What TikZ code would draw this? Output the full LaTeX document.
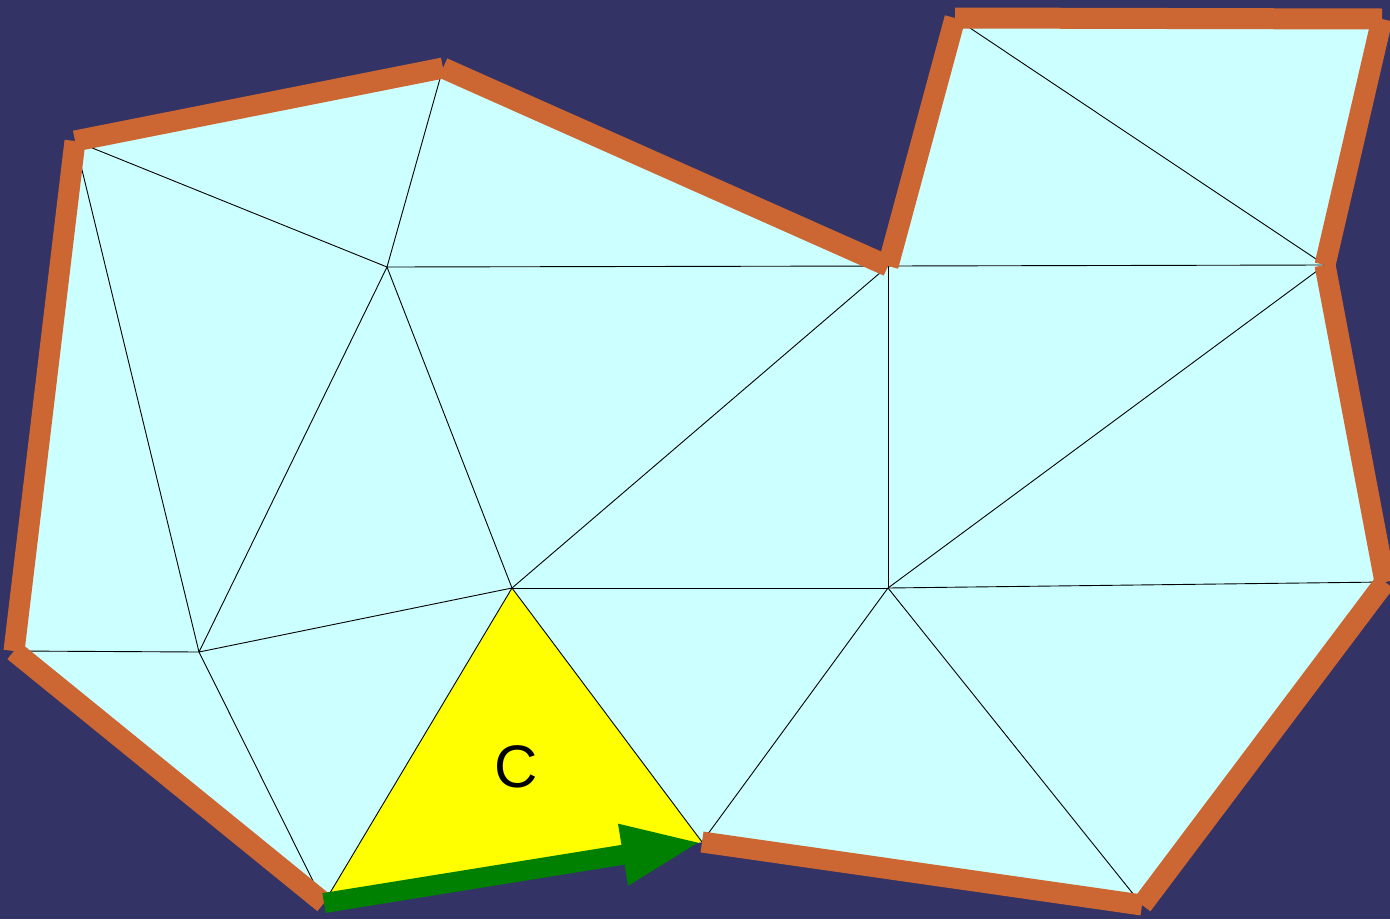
\documentclass[tikz,border=0pt]{standalone}
\usepackage{fontspec}
\setmainfont{Liberation Sans}
\usetikzlibrary{arrows.meta}
\definecolor{bgblue}{HTML}{333366}
\definecolor{meshfill}{HTML}{CCFFFF}
\definecolor{bandorange}{HTML}{CC6633}
\definecolor{arrowgreen}{HTML}{008000}
\definecolor{tri}{HTML}{FFFF00}
\tikzset{
  edge/.style={draw=black, line width=0.9pt},
  band/.style={draw=bandorange, line width=21pt, line cap=butt},
  flow/.style={draw=arrowgreen, line width=20pt, line cap=butt, -{Triangle[length=80pt,width=56pt]}},
  lbl/.style={font=\fontsize{60}{60}\selectfont, text=black, inner sep=0pt}
}
\begin{document}
\begin{tikzpicture}[x=1pt,y=-1pt]
\fill[bgblue] (0,0) rectangle (1390,919);
\useasboundingbox (0,0) rectangle (1390,919);
\coordinate (A) at (75,141);
\coordinate (B) at (443,68);
\coordinate (C) at (387,267);
\coordinate (D) at (888,266);
\coordinate (E) at (955,18);
\coordinate (F) at (1382,19);
\coordinate (G) at (1325,265);
\coordinate (H) at (1385,582);
\coordinate (I) at (888,588);
\coordinate (J) at (512,588);
\coordinate (K) at (199,652);
\coordinate (L) at (14,651);
\coordinate (M) at (324,903);
\coordinate (N) at (702,842);
\coordinate (O) at (1142,905);
% mesh fill
\fill[meshfill] (A) -- (B) -- (D) -- (E) -- (F) -- (G) -- (H) -- (O) -- (N) -- (M) -- (L) -- cycle;
\fill[tri] (J) -- (N) -- (M) -- cycle;
% mesh edges
\foreach \p/\q in {A/C,B/C,A/K,C/K,C/J,C/D,D/J,D/I,D/G,E/G,G/I,I/H,I/J,I/N,I/O,J/N,J/M,J/K,K/L,K/M}
  \draw[edge] (\p) -- (\q);
% boundary bands
\foreach \p/\q in {A/B,B/D,D/E,E/F,F/G,G/H,H/O,O/N,M/L,L/A}
  \draw[band] (\p) -- (\q);
% green arrow
\draw[flow] (M) -- (N);
\node[lbl] (lc) at (516,767) {C};
\end{tikzpicture}
\end{document}
